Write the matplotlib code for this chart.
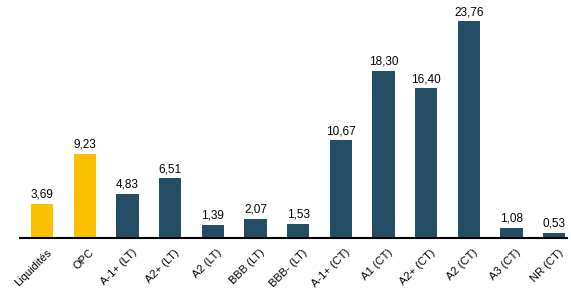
import matplotlib.pyplot as plt
from matplotlib.transforms import ScaledTranslation

plt.rcParams['font.family'] = ['Liberation Sans', 'DejaVu Sans']

categories = ["Liquidités", "OPC", "A-1+ (LT)", "A2+ (LT)", "A2 (LT)", "BBB (LT)", "BBB- (LT)",
              "A-1+ (CT)", "A1 (CT)", "A2+ (CT)", "A2 (CT)", "A3 (CT)", "NR (CT)"]
values = [3.69, 9.23, 4.83, 6.51, 1.39, 2.07, 1.53, 10.67, 18.30, 16.40, 23.76, 1.08, 0.53]
colors = ["#FAC000"] * 2 + ["#244E66"] * 11

fig = plt.figure(figsize=(5.71, 2.88), dpi=100)
ax = fig.add_axes([20 / 571, 0.175, 547 / 571, 0.825])
x = range(len(values))
ax.bar(x, values, width=0.52, color=colors)
for i, v in enumerate(values):
    ax.text(i, v + 0.35, f"{v:.2f}".replace(".", ","), ha="center", va="bottom", fontsize=8.5)

ax.set_xlim(-0.52, 12.3)
ax.set_ylim(0, 26.1)
ax.set_xticks(list(x))
ax.set_xticklabels(categories, rotation=45, ha="right", rotation_mode="anchor", fontsize=8)
ax.tick_params(axis="x", length=0, pad=7)
shift = ScaledTranslation(4 / 100, 0, fig.dpi_scale_trans)
for lbl in ax.get_xticklabels():
    lbl.set_transform(lbl.get_transform() + shift)
ax.set_yticks([])
for s in ["top", "right", "left"]:
    ax.spines[s].set_visible(False)
ax.spines["bottom"].set_linewidth(1.5)

fig.savefig("out.png", dpi=100)
